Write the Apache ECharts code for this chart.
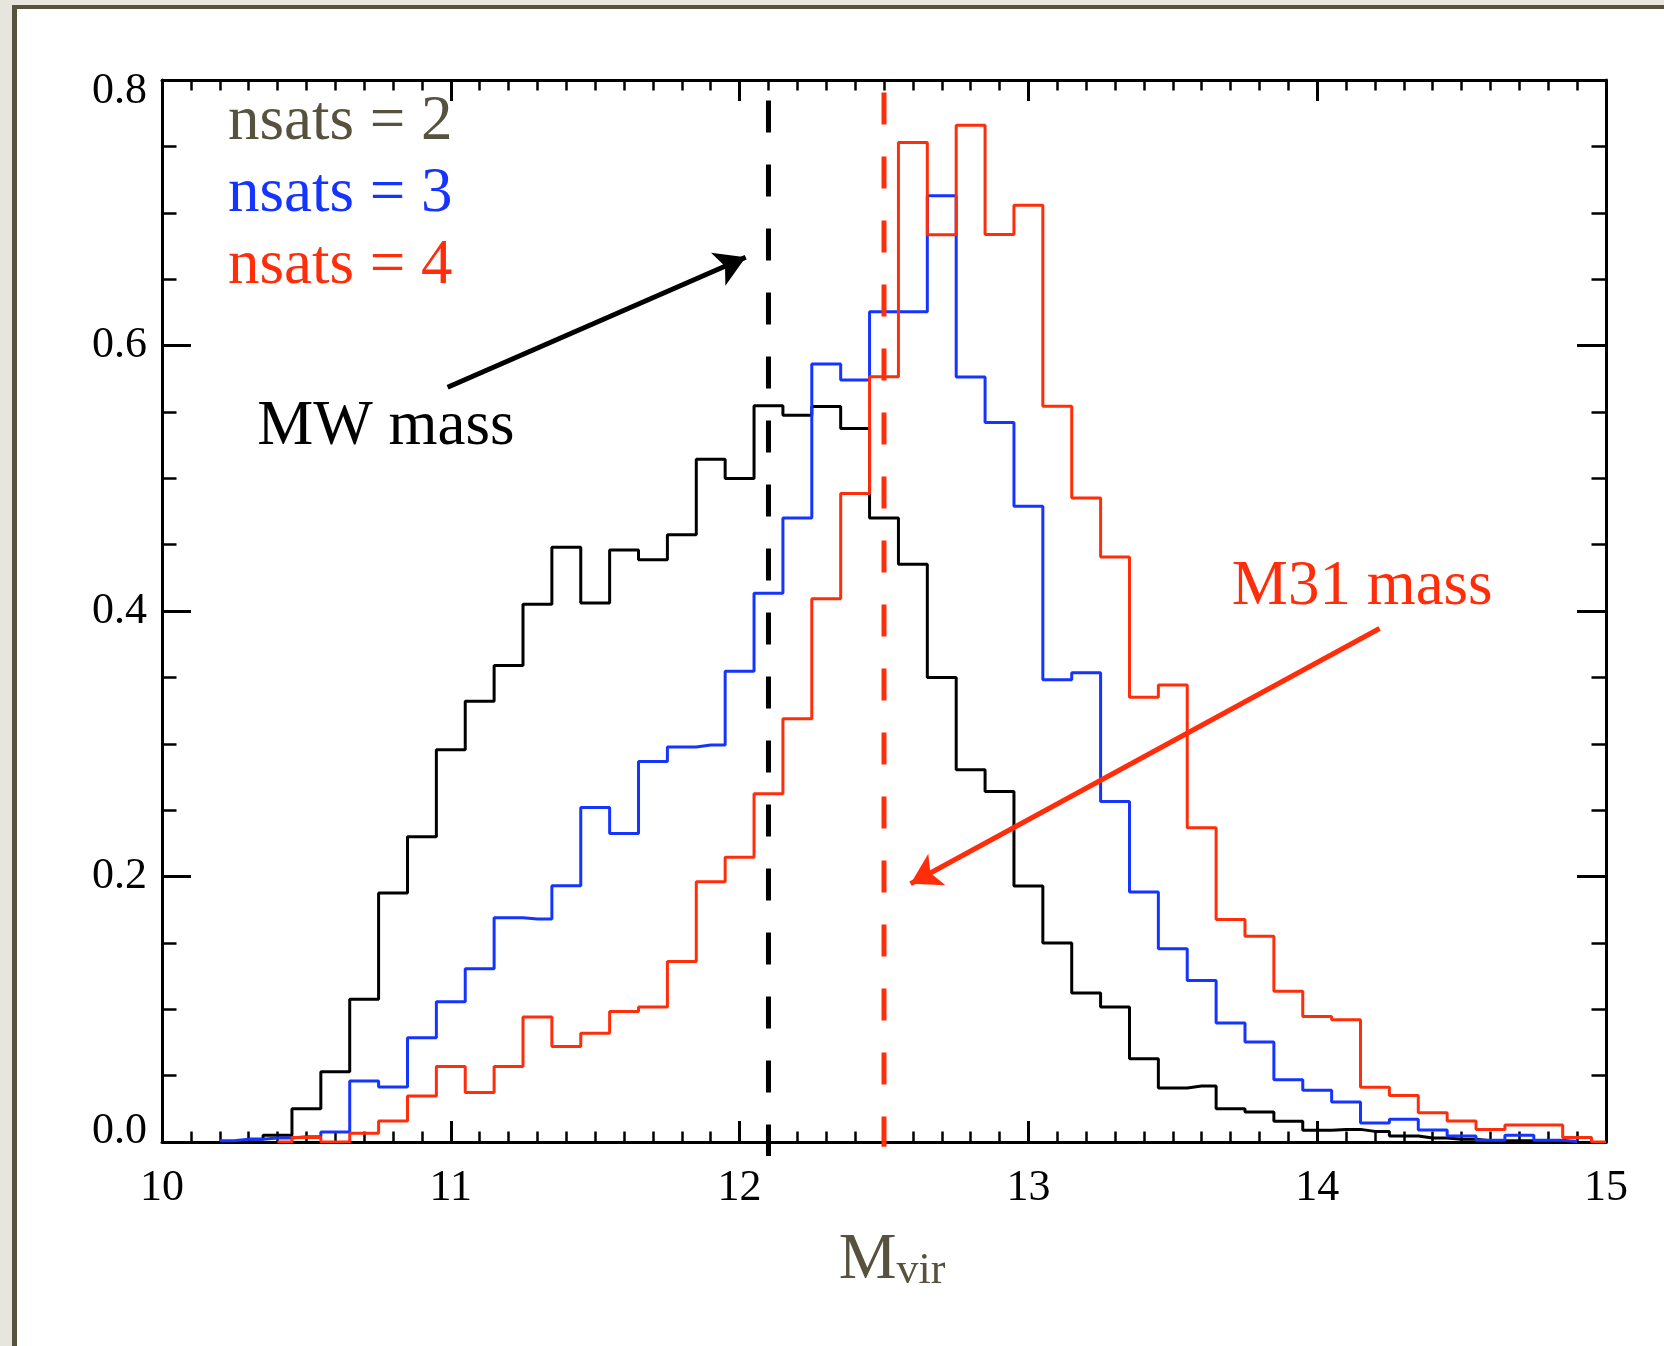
<!DOCTYPE html>
<html>
<head>
<meta charset="utf-8">
<script src="https://cdn.jsdelivr.net/npm/echarts@6/dist/echarts.min.js"></script>
<style>
  html, body { margin: 0; padding: 0; width: 1664px; height: 1346px; background: #e7e5de; overflow: hidden; }
  #frame { position: absolute; left: 12px; top: 5px; right: 0; bottom: 0; background: #fff;
           border-left: 5px solid #57523e; border-top: 4px solid #57523e; }
  #chart { position: absolute; left: 0; top: 0; width: 1664px; height: 1346px; }
</style>
</head>
<body>
<div id="frame"></div>
<div id="chart"></div>
<script>
// bin centres (log Mvir), 0.1 wide
var massBins = [10.2, 10.3, 10.4, 10.5, 10.6, 10.7, 10.8, 10.9, 11.0, 11.1,
                11.2, 11.3, 11.4, 11.5, 11.6, 11.7, 11.8, 11.9, 12.0, 12.1,
                12.2, 12.3, 12.4, 12.5, 12.6, 12.7, 12.8, 12.9, 13.0, 13.1,
                13.2, 13.3, 13.4, 13.5, 13.6, 13.7, 13.8, 13.9, 14.0, 14.1,
                14.2, 14.3, 14.4, 14.5, 14.6, 14.7, 14.8, 14.9, 15.0];

var nsats2 = [null, 0.002, 0.005, 0.025, 0.053, 0.1075, 0.1875, 0.23, 0.2955, 0.332,
              0.359, 0.405, 0.448, 0.406, 0.446, 0.4387, 0.4574, 0.5144, 0.4998, 0.5546,
              0.5475, 0.554, 0.5375, 0.47, 0.4353, 0.35, 0.2805, 0.264, 0.1928, 0.150,
              0.1122, 0.1017, 0.0627, 0.0407, 0.0422, 0.0251, 0.0226, 0.0156, 0.0088, 0.0095,
              0.008, 0.0045, 0.003, 0.002, 0.001, 0.001, 0.0005, null, null];

var nsats3 = [0.001, 0.002, 0.003, 0.004, 0.0075, 0.046, 0.0415, 0.0786, 0.1057, 0.1305,
              0.169, 0.168, 0.193, 0.252, 0.2324, 0.2866, 0.2975, 0.299, 0.3547, 0.4133,
              0.47, 0.586, 0.574, 0.6255, 0.6255, 0.7128, 0.5762, 0.542, 0.479, 0.3483,
              0.3535, 0.2565, 0.1883, 0.1456, 0.1217, 0.0896, 0.0753, 0.0469, 0.0389, 0.0301,
              0.0143, 0.0171, 0.009, 0.0045, 0.0013, 0.005, 0.0013, 0.0004, null];

var nsats4 = [null, null, 0.0, 0.0033, 0.0, 0.0065, 0.0158, 0.0347, 0.0568, 0.0372,
              0.0568, 0.0942, 0.072, 0.0819, 0.0983, 0.1017, 0.136, 0.196, 0.2145, 0.2623,
              0.3188, 0.4093, 0.4886, 0.5764, 0.753, 0.6835, 0.766, 0.6836, 0.7056, 0.5542,
              0.4852, 0.4407, 0.335, 0.3442, 0.2367, 0.1677, 0.1549, 0.1135, 0.0946, 0.0921,
              0.0412, 0.0351, 0.0221, 0.0158, 0.0095, 0.0128, 0.0128, 0.0033, 0.0];

var seriesNames = ['nsats = 2', 'nsats = 3', 'nsats = 4'];
var yTickLabels = ['0.0', '0.2', '0.4', '0.6', '0.8'];

// reference masses (dashed lines) and their annotation arrows
var mwMass = 12.1, m31Mass = 12.5;
var mwLineY = [0.7846, -0.0105];
var m31LineY = [0.7906, -0.0036];
var mwArrow = [[10.989, 0.5685], [12.021, 0.6665]];
var m31Arrow = [[14.216, 0.3868], [12.592, 0.1945]];
var mwLabelAt = [10.775, 0.538];
var m31LabelAt = [14.156, 0.4175];

var black = '#000000', blue = '#1535ff', red = '#ff2d0a', olive = '#57523e';
var serif = 'Liberation Serif';

function pairs(vals) {
  var out = [];
  for (var i = 0; i < massBins.length; i++) {
    if (vals[i] !== null) out.push([massBins[i], vals[i]]);
  }
  return out;
}

function hist(name, vals, color) {
  return {
    name: name, type: 'line', step: 'middle', data: pairs(vals),
    symbol: 'none', lineStyle: { color: color, width: 3 }, itemStyle: { color: color },
    z: 3
  };
}

function massLine(name, x, ys, color, arrow, labelAt, labelText) {
  return {
    name: name, type: 'line', data: [[x, ys[0]], [x, ys[1]]], symbol: 'none', clip: false,
    lineStyle: { color: color, width: 5, type: [32, 32] }, z: 4, silent: true,
    markLine: {
      silent: true, symbol: ['none', 'arrow'], symbolSize: 28,
      label: { show: false },
      lineStyle: { color: color, width: 5, type: 'solid' },
      data: [[
        { coord: arrow[0] },
        { coord: arrow[1], symbolSize: [27, 30] }
      ]]
    },
    markPoint: {
      silent: true,
      data: [{
        coord: labelAt, symbol: 'rect', symbolSize: 1, itemStyle: { color: 'rgba(0,0,0,0)' },
        label: { show: true, position: 'inside', formatter: labelText, color: color,
                 fontFamily: serif, fontSize: 63 }
      }]
    }
  };
}

var chart = echarts.init(document.getElementById('chart'), null, { renderer: 'canvas' });

var yLabelFmt = function (v) {
  var s = yTickLabels[Math.round(v / 0.2)];
  if (Math.abs(v - 0.8) < 1e-6) return '{hi|' + s + '}';
  if (Math.abs(v) < 1e-6) return '{lo|' + s + '}';
  return '{n|' + s + '}';
};
var yRich = {
  n: { fontFamily: serif, fontSize: 44, color: '#000' },
  hi: { fontFamily: serif, fontSize: 44, color: '#000', padding: [22, 0, 0, 0] },
  lo: { fontFamily: serif, fontSize: 44, color: '#000', padding: [0, 0, 22, 0] }
};

var xCommon = {
  type: 'value', min: 10, max: 15, interval: 1,
  axisLine: { show: true, onZero: false, lineStyle: { color: '#000', width: 3 } },
  axisTick: { show: true, inside: true, length: 21, lineStyle: { color: '#000', width: 3 } },
  minorTick: { show: true, splitNumber: 10, length: 10.5, lineStyle: { color: '#000', width: 2.5 } },
  splitLine: { show: false }
};
var yCommon = {
  type: 'value', min: 0, max: 0.8, interval: 0.2,
  axisLine: { show: true, onZero: false, lineStyle: { color: '#000', width: 3 } },
  axisTick: { show: true, inside: true, length: 29, lineStyle: { color: '#000', width: 3 } },
  minorTick: { show: true, splitNumber: 4, length: 14.5, lineStyle: { color: '#000', width: 2.5 } },
  splitLine: { show: false }
};

var option = {
  backgroundColor: 'transparent',
  animation: false,
  textStyle: { fontFamily: serif },
  grid: { left: 162, right: 58, top: 80, bottom: 204, containLabel: false },
  legend: {
    orient: 'vertical', left: 218, top: 86, itemGap: 9,
    icon: 'rect', itemWidth: 0, itemHeight: 0,
    itemStyle: { color: 'rgba(0,0,0,0)', borderWidth: 0 }, lineStyle: { width: 0 },
    selectedMode: false,
    textStyle: { fontFamily: serif, fontSize: 63, lineHeight: 63 },
    data: [
      { name: seriesNames[0], textStyle: { color: olive } },
      { name: seriesNames[1], textStyle: { color: blue } },
      { name: seriesNames[2], textStyle: { color: red } }
    ]
  },
  xAxis: [
    Object.assign({}, xCommon, {
      position: 'bottom',
      axisLabel: { show: true, margin: 24, color: '#000', fontFamily: serif, fontSize: 44 },
      name: '{m|M}{s|vir}', nameLocation: 'middle', nameGap: 86,
      nameTextStyle: {
        color: olive, padding: [0, 0, 0, 16],
        rich: {
          m: { fontFamily: serif, fontSize: 65, color: olive, verticalAlign: 'bottom', lineHeight: 65 },
          s: { fontFamily: serif, fontSize: 44, color: olive, verticalAlign: 'bottom', lineHeight: 40 }
        }
      }
    }),
    Object.assign({}, xCommon, { position: 'top', axisLabel: { show: false } })
  ],
  yAxis: [
    Object.assign({}, yCommon, {
      position: 'left',
      axisLabel: { show: true, margin: 15, formatter: yLabelFmt, rich: yRich }
    }),
    Object.assign({}, yCommon, { position: 'right', axisLabel: { show: false } })
  ],
  series: [
    hist(seriesNames[0], nsats2, black),
    hist(seriesNames[1], nsats3, blue),
    hist(seriesNames[2], nsats4, red),
    massLine('MW mass', mwMass, mwLineY, black, mwArrow, mwLabelAt, 'MW mass'),
    massLine('M31 mass', m31Mass, m31LineY, red, m31Arrow, m31LabelAt, 'M31 mass')
  ]
};

chart.setOption(option);
</script>
</body>
</html>
